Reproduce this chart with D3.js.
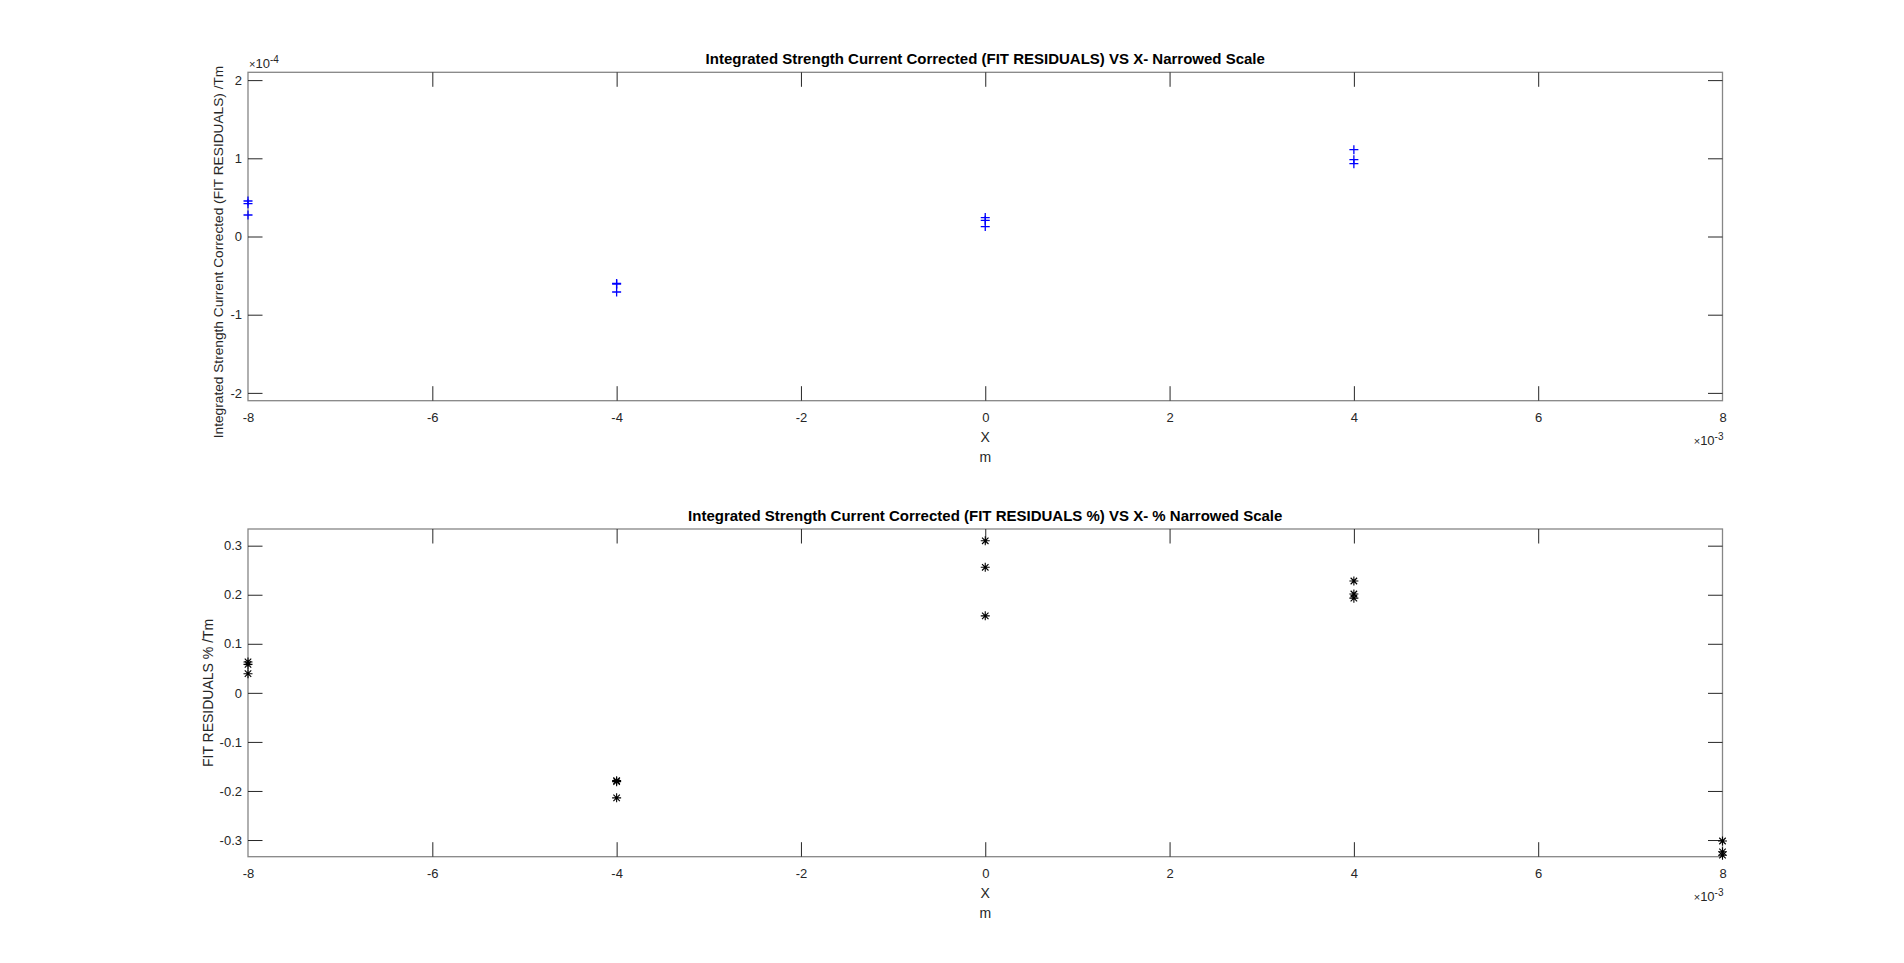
<!DOCTYPE html>
<html>
  <head>
    <meta charset="utf-8">
    <title>Integrated Strength Current Corrected - fit residuals</title>
    <style type="text/css">
     html, body {
       margin: 0;
       background: #fff;
     }
     svg text {
       font-family: "Liberation Sans", Arial, sans-serif;
       fill: #262626;
     }
     .title {
       font-weight: bold;
       font-size: 15px;
       fill: #000;
     }
     .tick text {
       font-size: 13px;
     }
     .label {
       font-size: 14px;
     }
     .frame {
       fill: none;
       stroke: #868686;
       stroke-width: 1.3px;
     }
     .tick line {
       stroke: #262626;
       stroke-width: 1px;
     }
    </style>
  </head>
  <body>
    <svg width="1904" height="963"></svg>
    <script src="https://cdn.jsdelivr.net/npm/d3@7"></script>
    <script>
     // x positions, metres (x 1e-3)
     var xTicks = [-8, -6, -4, -2, 0, 2, 4, 6, 8];

     // top plot: fit residuals, Tm (x 1e-4)
     var resX = [-8, -8, -8, -4, -4, -4, 0, 0, 0, 4, 4, 4];
     var resY = [0.454, 0.42, 0.275, -0.60, -0.61, -0.71, 0.242, 0.207, 0.127, 1.111, 0.983, 0.932];
     var resTicks = [-2, -1, 0, 1, 2];

     // bottom plot: fit residuals %
     var pctX = [-8, -8, -8, -4, -4, -4, 0, 0, 0, 4, 4, 4, 8, 8, 8];
     var pctY = [0.063, 0.058, 0.039, -0.179, -0.181, -0.214, 0.310, 0.256, 0.157, 0.228, 0.2015, 0.193, -0.302, -0.324, -0.331];
     var pctTicks = [-0.3, -0.2, -0.1, 0, 0.1, 0.2, 0.3];

     var svg = d3.select("svg");
     var left = 248, right = 1722.5, tickLen = 14.5;

     // hyphen instead of unicode minus, like the original
     function fmt(spec) {
       var f = d3.format(spec);
       return d => f(d).replace("\u2212", "-");
     }

     function panel(opt) {
       var x = d3.scaleLinear().domain([-8, 8]).range([left, right]);
       var y = d3.scaleLinear().domain(opt.ydomain).range([opt.bottom, opt.top]);
       var g = svg.append("g");

       g.append("rect").attr("class", "frame")
        .attr("x", left).attr("y", opt.top)
        .attr("width", right - left).attr("height", opt.bottom - opt.top);

       // ticks on all four sides, pointing inward
       g.append("g").attr("transform", `translate(0,${opt.bottom})`)
        .call(d3.axisBottom(x).tickValues(xTicks).tickFormat(fmt("d"))
                .tickSizeInner(-tickLen).tickSizeOuter(0).tickPadding(12))
        .call(a => a.select(".domain").remove());
       g.append("g").attr("transform", `translate(0,${opt.top})`)
        .call(d3.axisTop(x).tickValues(xTicks).tickFormat("")
                .tickSizeInner(-tickLen).tickSizeOuter(0))
        .call(a => a.select(".domain").remove());
       g.append("g").attr("transform", `translate(${left},0)`)
        .call(d3.axisLeft(y).tickValues(opt.yticks).tickFormat(opt.yfmt)
                .tickSizeInner(-tickLen).tickSizeOuter(0).tickPadding(6))
        .call(a => a.select(".domain").remove());
       g.append("g").attr("transform", `translate(${right},0)`)
        .call(d3.axisRight(y).tickValues(opt.yticks).tickFormat("")
                .tickSizeInner(-tickLen).tickSizeOuter(0))
        .call(a => a.select(".domain").remove());
       g.selectAll(".tick text").attr("fill", "#262626");
       g.selectAll(".tick line").attr("stroke", null);
       g.selectAll("g").attr("font-family", null).attr("font-size", null);
       g.selectAll(".tick").filter(d => d === 8 || d === -8).select("line")
        .attr("opacity", 0);

       g.append("text").attr("class", "title")
        .attr("x", (left + right) / 2).attr("y", opt.top - 8)
        .attr("text-anchor", "middle").text(opt.title);

       g.append("text").attr("class", "label")
        .attr("x", (left + right) / 2).attr("y", opt.bottom + 41)
        .attr("text-anchor", "middle").text("X");
       g.append("text").attr("class", "label")
        .attr("x", (left + right) / 2).attr("y", opt.bottom + 61)
        .attr("text-anchor", "middle").text("m");

       g.append("text").attr("class", "label")
        .attr("transform", `translate(${opt.ylabelX},${opt.ylabelY}) rotate(-90)`)
        .attr("text-anchor", "middle").style("font-size", opt.ylabelSize)
        .text(opt.ylabel);

       var ex = g.append("text").attr("class", "label")
        .attr("x", right + 1).attr("y", opt.bottom + 44)
        .attr("text-anchor", "end");
       ex.append("tspan").style("font-size", "11px").text("\u00d7");
       ex.append("tspan").style("font-size", "13px").text("10");
       ex.append("tspan").style("font-size", "10px").attr("dy", -5).text("-3");

       var marks = g.append("g");
       var pts = opt.xs.map((d, i) => [x(d), y(opt.ys[i])]);
       pts.forEach(function (p) {
         var s = opt.size;
         var path = `M${p[0] - s},${p[1]}H${p[0] + s}M${p[0]},${p[1] - s}V${p[1] + s}`;
         if (opt.star) {
           var k = s * 0.72;
           path += `M${p[0] - k},${p[1] - k}L${p[0] + k},${p[1] + k}M${p[0] - k},${p[1] + k}L${p[0] + k},${p[1] - k}`;
         }
         marks.append("path").attr("d", path)
              .attr("stroke", opt.color).attr("stroke-width", opt.star ? 1.1 : 1.3)
              .attr("fill", "none");
       });
       return { x: x, y: y, g: g };
     }

     var topPanel = panel({
       top: 72.3, bottom: 400.7, ydomain: [-2.1, 2.1], yticks: resTicks,
       yfmt: fmt("d"), xs: resX, ys: resY, color: "#0000ff", size: 4.5, star: false,
       title: "Integrated Strength Current Corrected (FIT RESIDUALS) VS X- Narrowed Scale",
       ylabel: "Integrated Strength Current Corrected (FIT RESIDUALS) /Tm",
       ylabelX: 223, ylabelY: 252, ylabelSize: "13.7px"
     });

     var ex4 = topPanel.g.append("text").attr("class", "label")
                 .attr("x", 249).attr("y", 68);
     ex4.append("tspan").style("font-size", "11px").text("\u00d7");
     ex4.append("tspan").style("font-size", "13px").text("10");
     ex4.append("tspan").style("font-size", "10px").attr("dy", -5).text("-4");

     panel({
       top: 529, bottom: 856.7, ydomain: [-0.334, 0.334], yticks: pctTicks,
       yfmt: d => (d === 0 ? "0" : fmt(".1f")(d)), xs: pctX, ys: pctY,
       color: "#000", size: 4.5, star: true,
       title: "Integrated Strength Current Corrected (FIT RESIDUALS %) VS X- % Narrowed Scale",
       ylabel: "FIT RESIDUALS % /Tm", ylabelX: 213, ylabelY: 692.9, ylabelSize: "14px"
     });
    </script>
  </body>
</html>
